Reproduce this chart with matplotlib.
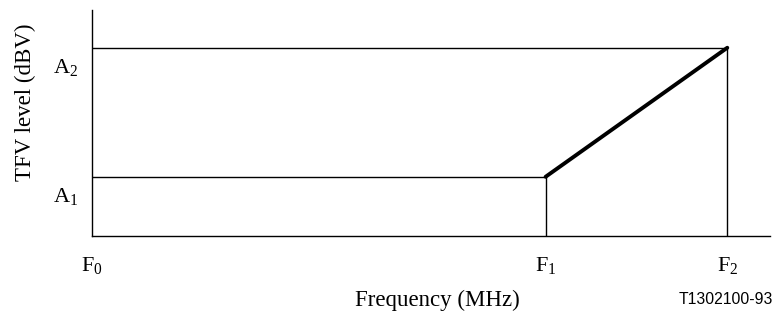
import matplotlib
matplotlib.use("Agg")
import matplotlib.pyplot as plt

# frequency points (axis units) and levels
freq_names = ['F$_0$', 'F$_1$', 'F$_2$']
freqs = [0.0, 6.69, 9.37]
level_names = ['A$_1$', 'A$_2$']
levels = [2.62, 8.33]

plt.rcParams['font.family'] = ['Liberation Serif', 'DejaVu Serif']
plt.rcParams['mathtext.fontset'] = 'custom'
plt.rcParams['mathtext.rm'] = 'Liberation Serif'
plt.rcParams['mathtext.it'] = 'Liberation Serif'

fig = plt.figure(figsize=(7.76, 3.16), dpi=100)
ax = fig.add_axes([92 / 776, 80 / 316, 678 / 776, 226 / 316])
ax.set_xlim(0, 10)
ax.set_ylim(0, 10)

lw = 1.0
# horizontal levels and vertical drops
ax.plot([freqs[0], freqs[1]], [levels[0], levels[0]], color='black', lw=lw)
ax.plot([freqs[0], freqs[2]], [levels[1], levels[1]], color='black', lw=lw)
ax.plot([freqs[1], freqs[1]], [0, levels[0]], color='black', lw=lw)
ax.plot([freqs[2], freqs[2]], [0, levels[1]], color='black', lw=lw)
# mask ramp
ax.plot([freqs[1], freqs[2]], [levels[0], levels[1]], color='black', lw=2.8,
        solid_capstyle='round')

for s in ['top', 'right']:
    ax.spines[s].set_visible(False)
for s in ['left', 'bottom']:
    ax.spines[s].set_linewidth(1.0)
ax.set_xticks([])
ax.set_yticks([])

for name, f in zip(freq_names, freqs):
    ax.annotate(name, (f, 0), xytext=(0, -21), textcoords='offset points',
                ha='center', va='center', fontsize=16)
for name, a in zip(level_names, levels):
    ax.annotate(name, (0, a), xytext=(-19, -14), textcoords='offset points',
                ha='center', va='center', fontsize=16)

fig.text(437 / 776, 1 - 300 / 316, 'Frequency (MHz)', ha='center', va='center',
         fontsize=16.5)
fig.text(25 / 776, 1 - 102 / 316, 'TFV level (dBV)', ha='center', va='center',
         rotation=90, fontsize=16.5)
fig.text(773 / 776, 1 - 300 / 316, 'T1302100-93', ha='right', va='center',
         fontsize=11.3, family='Liberation Sans')

fig.savefig('out.png', dpi=100)
